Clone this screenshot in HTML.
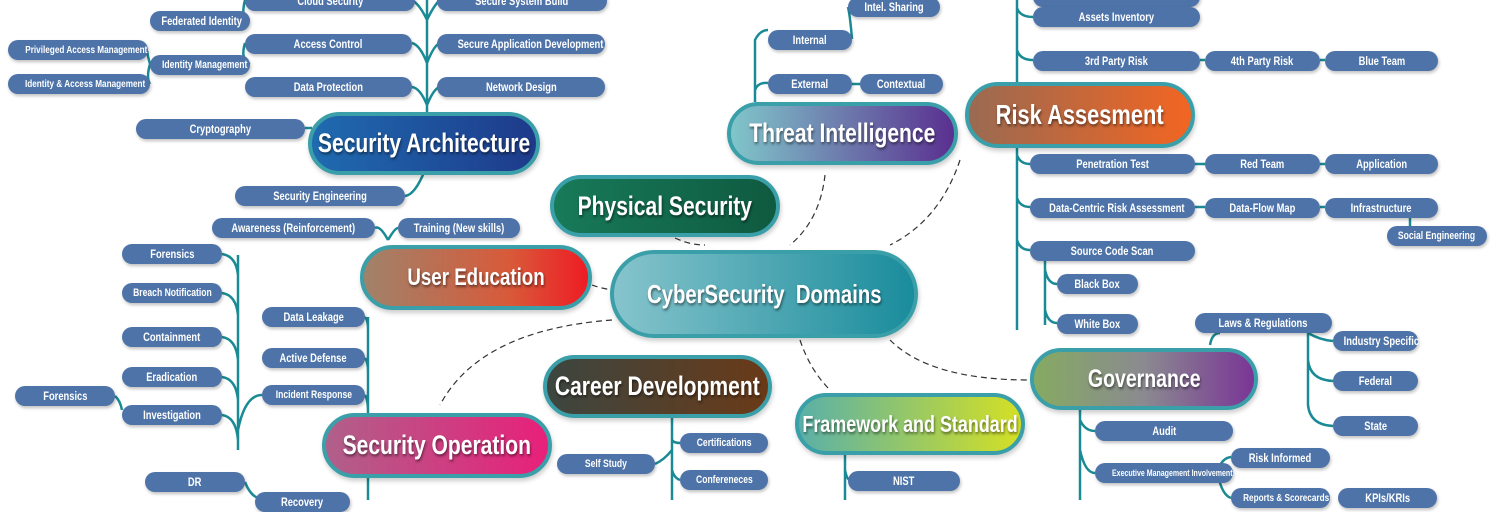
<!DOCTYPE html>
<html><head><meta charset="utf-8"><style>
body{margin:0;width:1500px;height:500px;overflow:hidden;background:#fff;position:relative;font-family:"Liberation Sans",sans-serif;}
.p{position:absolute;height:20px;line-height:20px;background:#4d73a8;color:#fff;font-size:12px;font-weight:bold;text-align:center;border-radius:10px;box-shadow:1px 2px 3px rgba(0,0,0,.25);white-space:nowrap}
.p span,.n span{display:inline-block;transform:scaleX(.78);transform-origin:center}
.n{position:absolute;box-sizing:border-box;border:4px solid #3a9fa8;border-radius:36px;color:#fff;font-weight:bold;text-align:center;display:flex;align-items:center;justify-content:center;text-shadow:1px 2px 3px rgba(0,0,0,.5);box-shadow:1px 3px 5px rgba(0,0,0,.2);white-space:nowrap}
svg{position:absolute;left:0;top:0}
</style></head><body>
<svg width="1500" height="500" fill="none">
<g stroke="#1a8a94" stroke-width="2.5">
<path d="M427 0V112M427 20Q420 5 412 0M427 20Q434 5 440 0M427 63Q420 45 412 43M427 63Q434 45 440 43M427 105Q420 88 412 87M427 105Q434 88 440 87"/>
<path d="M245 43Q240 60 250 64M150 64Q146 50 148 50M150 64Q146 78 150 84M245 0Q240 20 250 20M305 128H312M425 170Q415 195 405 196M388 240Q380 225 375 228M388 240Q395 228 398 228"/>
<path d="M238 255V450M222 254Q236 256 238 275M222 293Q236 295 238 315M222 337Q236 339 238 360M222 377Q236 379 238 400M222 415Q236 417 238 440M115 396Q120 400 122 410M238 430Q245 395 262 395"/>
<path d="M368 317V500M365 317Q368 320 368 330M365 358Q368 362 368 372M365 395Q368 400 368 412M245 482Q250 495 258 498"/>
<path d="M672 418V500M672 440Q674 443 680 443M672 470Q674 478 680 480M655 464Q664 460 672 450M845 455V500M845 470Q847 480 850 480"/>
<path d="M755 102V40Q760 30 768 30M755 90Q758 82 768 83M852 39Q850 15 848 7M852 84H860"/>
<path d="M1017 0V330M1017 8Q1020 17 1033 17M1017 50Q1020 60 1033 60M1017 155Q1020 164 1030 164M1017 198Q1020 207 1030 207M1017 240Q1020 250 1030 250M1045 261V325M1045 270Q1048 284 1057 284M1045 310Q1048 323 1057 323M1200 60H1205M1320 60H1325M1195 164H1205M1320 164H1325M1195 207H1205M1320 207H1325M1410 218V228"/>
<path d="M1210 345Q1212 333 1220 333M1308 333V405Q1310 425 1333 426M1308 333Q1320 340 1333 341M1308 360Q1310 380 1333 381M1080 410V500M1080 420Q1085 431 1095 431M1080 450Q1085 473 1095 473M1218 470Q1222 458 1231 457M1218 475Q1222 495 1231 498"/>
</g>
<g stroke="#333" stroke-width="1.2" stroke-dasharray="6 4">
<path d="M825 175Q820 220 790 245M960 160Q940 220 890 245M675 238Q690 245 705 245M592 285Q600 288 612 290M612 320Q480 330 440 405M800 340Q810 370 830 390M890 340Q930 380 1030 380"/>
</g>
</svg>
<div class="p" style="left:245px;top:-9px;width:170px"><span>Cloud Security</span></div>
<div class="p" style="left:437px;top:-9px;width:170px"><span>Secure System Build</span></div>
<div class="p" style="left:150px;top:11px;width:100px"><span>Federated Identity</span></div>
<div class="p" style="left:245px;top:34px;width:167px"><span>Access Control</span></div>
<div class="p" style="left:437px;top:34px;width:168px"><span>Secure Application Development</span></div>
<div class="p" style="left:8px;top:40px;width:140px;font-size:10.5px"><span>Privileged Access Management</span></div>
<div class="p" style="left:150px;top:55px;width:100px;font-size:11px"><span>Identity Management</span></div>
<div class="p" style="left:8px;top:74px;width:142px;font-size:10.5px"><span>Identity &amp; Access Management</span></div>
<div class="p" style="left:245px;top:77px;width:167px"><span>Data Protection</span></div>
<div class="p" style="left:437px;top:77px;width:168px"><span>Network Design</span></div>
<div class="p" style="left:136px;top:119px;width:169px"><span>Cryptography</span></div>
<div class="p" style="left:235px;top:186px;width:170px"><span>Security Engineering</span></div>
<div class="p" style="left:212px;top:218px;width:163px"><span>Awareness (Reinforcement)</span></div>
<div class="p" style="left:398px;top:218px;width:122px"><span>Training (New skills)</span></div>
<div class="p" style="left:122px;top:244px;width:100px"><span>Forensics</span></div>
<div class="p" style="left:122px;top:283px;width:100px;font-size:11px"><span>Breach Notification</span></div>
<div class="p" style="left:122px;top:327px;width:100px"><span>Containment</span></div>
<div class="p" style="left:122px;top:367px;width:100px"><span>Eradication</span></div>
<div class="p" style="left:122px;top:405px;width:100px"><span>Investigation</span></div>
<div class="p" style="left:15px;top:386px;width:100px"><span>Forensics</span></div>
<div class="p" style="left:262px;top:307px;width:103px"><span>Data Leakage</span></div>
<div class="p" style="left:262px;top:348px;width:103px"><span>Active Defense</span></div>
<div class="p" style="left:262px;top:385px;width:103px;font-size:11px"><span>Incident Response</span></div>
<div class="p" style="left:145px;top:472px;width:100px"><span>DR</span></div>
<div class="p" style="left:255px;top:492px;width:95px"><span>Recovery</span></div>
<div class="p" style="left:680px;top:433px;width:88px;font-size:11px"><span>Certifications</span></div>
<div class="p" style="left:680px;top:470px;width:88px;font-size:11px"><span>Confereneces</span></div>
<div class="p" style="left:557px;top:454px;width:98px;font-size:11px"><span>Self Study</span></div>
<div class="p" style="left:848px;top:471px;width:112px"><span>NIST</span></div>
<div class="p" style="left:848px;top:-3px;width:92px"><span>Intel. Sharing</span></div>
<div class="p" style="left:768px;top:30px;width:84px"><span>Internal</span></div>
<div class="p" style="left:768px;top:74px;width:84px"><span>External</span></div>
<div class="p" style="left:860px;top:74px;width:83px"><span>Contextual</span></div>
<div class="p" style="left:1033px;top:-13px;width:167px"></div>
<div class="p" style="left:1033px;top:7px;width:167px"><span>Assets Inventory</span></div>
<div class="p" style="left:1033px;top:51px;width:167px"><span>3rd Party Risk</span></div>
<div class="p" style="left:1205px;top:51px;width:115px"><span>4th Party Risk</span></div>
<div class="p" style="left:1325px;top:51px;width:113px"><span>Blue Team</span></div>
<div class="p" style="left:1030px;top:154px;width:165px"><span>Penetration Test</span></div>
<div class="p" style="left:1205px;top:154px;width:115px"><span>Red Team</span></div>
<div class="p" style="left:1325px;top:154px;width:113px"><span>Application</span></div>
<div class="p" style="left:1030px;top:198px;width:165px"><span>Data-Centric Risk Assessment</span></div>
<div class="p" style="left:1205px;top:198px;width:115px"><span>Data-Flow Map</span></div>
<div class="p" style="left:1325px;top:198px;width:113px"><span>Infrastructure</span></div>
<div class="p" style="left:1387px;top:226px;width:100px;font-size:11px"><span>Social Engineering</span></div>
<div class="p" style="left:1030px;top:241px;width:165px"><span>Source Code Scan</span></div>
<div class="p" style="left:1057px;top:274px;width:81px"><span>Black Box</span></div>
<div class="p" style="left:1057px;top:314px;width:81px"><span>White Box</span></div>
<div class="p" style="left:1195px;top:313px;width:137px"><span>Laws &amp; Regulations</span></div>
<div class="p" style="left:1333px;top:331px;width:85px"><span>Industry Specific</span></div>
<div class="p" style="left:1333px;top:371px;width:85px"><span>Federal</span></div>
<div class="p" style="left:1333px;top:416px;width:85px"><span>State</span></div>
<div class="p" style="left:1095px;top:421px;width:138px"><span>Audit</span></div>
<div class="p" style="left:1095px;top:463px;width:138px;font-size:9px"><span>Executive Management Involvement</span></div>
<div class="p" style="left:1231px;top:448px;width:99px"><span>Risk Informed</span></div>
<div class="p" style="left:1231px;top:488px;width:99px;font-size:10.5px"><span>Reports &amp; Scorecards</span></div>
<div class="p" style="left:1338px;top:488px;width:99px"><span>KPIs/KRIs</span></div>

<div class="n" style="left:308px;top:112px;width:232px;height:63px;font-size:27px;background:linear-gradient(90deg,#1f6bb0,#1e3a8a)"><span>Security Architecture</span></div>
<div class="n" style="left:550px;top:175px;width:230px;height:62px;font-size:27px;background:linear-gradient(90deg,#177a58,#0f5a40)"><span>Physical Security</span></div>
<div class="n" style="left:360px;top:245px;width:232px;height:65px;font-size:24px;background:linear-gradient(90deg,#a0826a,#d85a3a 65%,#ee1c24)"><span>User Education</span></div>
<div class="n" style="left:610px;top:250px;width:308px;height:88px;font-size:26px;border-radius:44px;background:linear-gradient(90deg,#86c4cc,#1a8c9c)"><span>CyberSecurity&nbsp; Domains</span></div>
<div class="n" style="left:727px;top:102px;width:231px;height:63px;font-size:27px;background:linear-gradient(90deg,#80c6ca,#5a3090)"><span>Threat Intelligence</span></div>
<div class="n" style="left:965px;top:82px;width:230px;height:66px;font-size:28px;background:linear-gradient(90deg,#9a6a52,#f26522)"><span>Risk Assesment</span></div>
<div class="n" style="left:1030px;top:348px;width:228px;height:62px;font-size:25px;background:linear-gradient(90deg,#86aa62,#8a8a90 50%,#7a3596)"><span>Governance</span></div>
<div class="n" style="left:795px;top:393px;width:230px;height:62px;font-size:23px;background:linear-gradient(90deg,#5ab0a8,#d4e024)"><span>Framework and Standard</span></div>
<div class="n" style="left:543px;top:355px;width:229px;height:63px;font-size:27px;background:linear-gradient(90deg,#3c4640,#6a3a18)"><span>Career Development</span></div>
<div class="n" style="left:322px;top:413px;width:230px;height:65px;font-size:27px;background:linear-gradient(90deg,#b0608a,#e8207a)"><span>Security Operation</span></div>
</body></html>
